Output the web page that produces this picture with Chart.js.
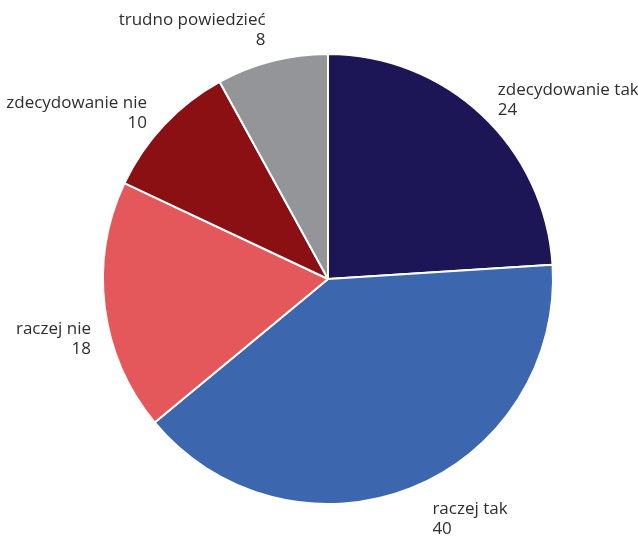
<!DOCTYPE html>
<html>
<head>
<meta charset="utf-8">
<script src="https://cdn.jsdelivr.net/npm/chart.js@4"></script>
<style>
  html, body { margin: 0; padding: 0; background: #fff; }
  #wrap { width: 638px; height: 537px; }
</style>
</head>
<body>
<div id="wrap"><canvas id="pieChart"></canvas></div>
<script>
// ===== DATA =====
const labels = ["zdecydowanie tak", "raczej tak", "raczej nie", "zdecydowanie nie", "trudno powiedzieć"];
const values = [24, 40, 18, 10, 8];
const colors = ["#1c1656", "#3c66ad", "#e4575b", "#8a1014", "#939598"];

// small hand nudges for the outside labels, [dx, dy] per slice
const labelNudge = [[-2, 4], [12, 7], [12, 29], [2, 6], [0, -6]];

// ===== OUTSIDE LABELS (name + value, two lines) =====
const outsideLabels = {
  id: "outsideLabels",
  afterDatasetsDraw(chart) {
    const { ctx } = chart;
    const meta = chart.getDatasetMeta(0);
    ctx.save();
    ctx.font = "17px 'Open Sans', sans-serif";
    ctx.fillStyle = "#2e2e2e";
    ctx.textBaseline = "middle";
    meta.data.forEach((arc, i) => {
      const { x, y, startAngle, endAngle, outerRadius } = arc.getProps(["x", "y", "startAngle", "endAngle", "outerRadius"], true);
      const mid = (startAngle + endAngle) / 2;
      const r = outerRadius + 26;
      const px = x + Math.cos(mid) * r + labelNudge[i][0];
      const py = y + Math.sin(mid) * r + labelNudge[i][1];
      ctx.textAlign = Math.cos(mid) >= 0 ? "left" : "right";
      ctx.fillText(labels[i], px, py - 10);
      ctx.fillText(String(values[i]), px, py + 10);
    });
    ctx.restore();
  }
};

window.addEventListener("load", () => {
  new Chart(document.getElementById("pieChart"), {
    type: "pie",
    data: {
      labels,
      datasets: [{
        data: values,
        backgroundColor: colors,
        borderColor: "#ffffff",
        borderWidth: 2
      }]
    },
    options: {
      responsive: true,
      maintainAspectRatio: false,
      animation: false,
      layout: { padding: { left: 102, right: 84, top: 52, bottom: 31 } },
      plugins: {
        legend: { display: false },
        tooltip: { enabled: false }
      }
    },
    plugins: [outsideLabels]
  });
});
</script>
</body>
</html>
